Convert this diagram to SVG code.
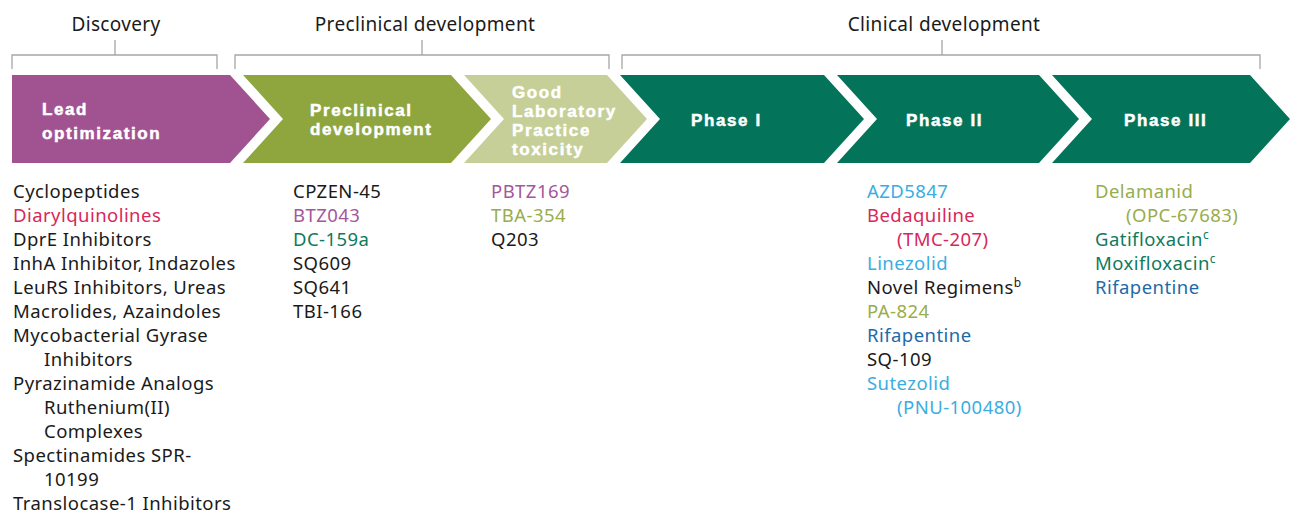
<svg xmlns="http://www.w3.org/2000/svg" width="1290" height="512" viewBox="0 0 1290 512">
<style>
text{font-family:"Noto Sans","Liberation Sans",sans-serif;}
.hdr{font-size:19px;letter-spacing:0.35px;fill:#1a1a1a;text-anchor:middle;}
.lbl{font-family:"Liberation Sans","Noto Sans",sans-serif;font-size:17px;font-weight:bold;letter-spacing:1.6px;fill:#ffffff;stroke:#ffffff;stroke-width:0.5px;}
.li{font-size:18.5px;letter-spacing:0.45px;fill:#1a1a1a;}
.br{fill:none;stroke:#a6a6a6;stroke-width:1.3;}
.red{fill:#d8275a;}
.pur{fill:#a4579a;}
.grn{fill:#0f7a5c;}
.olv{fill:#98ad4b;}
.lbl2{fill:#3aade2;}
.dbl{fill:#1e6aa8;}
.sup{font-size:12px;letter-spacing:0;}
</style>
<g id="brackets">
<path class="br" d="M12,69 V55 H217 V69 M115,55 V40"/>
<path class="br" d="M235,69 V55 H609 V69 M422,55 V40"/>
<path class="br" d="M622,69 V55 H1260 V69 M942,55 V40"/>
<text class="hdr" x="116" y="31">Discovery</text>
<text class="hdr" x="425" y="31">Preclinical development</text>
<text class="hdr" x="944" y="31">Clinical development</text>
</g>
<g id="lead">
<polygon points="12,75 230,75 270,119 230,163 12,163" fill="#a15391"/>
<text class="lbl"><tspan x="42" y="115">Lead</tspan><tspan x="42" y="139">optimization</tspan></text>
</g>
<g id="preclinical">
<polygon points="243,75 451,75 491,119 451,163 243,163 283,119" fill="#8fa63e"/>
<text class="lbl"><tspan x="310" y="116">Preclinical</tspan><tspan x="310" y="135">development</tspan></text>
</g>
<g id="glp">
<polygon points="464,75 607,75 647,119 607,163 464,163 504,119" fill="#c5cf97"/>
<text class="lbl"><tspan x="512" y="97.5">Good</tspan><tspan x="512" y="116.5">Laboratory</tspan><tspan x="512" y="135.5">Practice</tspan><tspan x="512" y="154.5">toxicity</tspan></text>
</g>
<g id="phase1">
<polygon points="620,75 824,75 864,119 824,163 620,163 660,119" fill="#03735a"/>
<text class="lbl" x="691" y="126">Phase I</text>
</g>
<g id="phase2">
<polygon points="837,75 1039,75 1079,119 1039,163 837,163 877,119" fill="#03735a"/>
<text class="lbl" x="906" y="126">Phase II</text>
</g>
<g id="phase3">
<polygon points="1052,75 1250,75 1290,119 1250,163 1052,163 1092,119" fill="#03735a"/>
<text class="lbl" x="1124" y="126">Phase III</text>
</g>
<g id="list-discovery">
<text class="li" x="13" y="197.5">Cyclopeptides</text>
<text class="li red" x="13" y="221.5">Diarylquinolines</text>
<text class="li" x="13" y="245.5">DprE Inhibitors</text>
<text class="li" x="13" y="269.5">InhA Inhibitor, Indazoles</text>
<text class="li" x="13" y="293.5">LeuRS Inhibitors, Ureas</text>
<text class="li" x="13" y="317.5">Macrolides, Azaindoles</text>
<text class="li" x="13" y="341.5">Mycobacterial Gyrase</text>
<text class="li" x="44" y="365.5">Inhibitors</text>
<text class="li" x="13" y="389.5">Pyrazinamide Analogs</text>
<text class="li" x="44" y="413.5">Ruthenium(II)</text>
<text class="li" x="44" y="437.5">Complexes</text>
<text class="li" x="13" y="461.5">Spectinamides SPR-</text>
<text class="li" x="44" y="485.5">10199</text>
<text class="li" x="13" y="509.5">Translocase-1 Inhibitors</text>
</g>
<g id="list-preclinical">
<text class="li" x="293" y="197.5">CPZEN-45</text>
<text class="li pur" x="293" y="221.5">BTZ043</text>
<text class="li grn" x="293" y="245.5">DC-159a</text>
<text class="li" x="293" y="269.5">SQ609</text>
<text class="li" x="293" y="293.5">SQ641</text>
<text class="li" x="293" y="317.5">TBI-166</text>
</g>
<g id="list-glp">
<text class="li pur" x="491" y="197.5">PBTZ169</text>
<text class="li olv" x="491" y="221.5">TBA-354</text>
<text class="li" x="491" y="245.5">Q203</text>
</g>
<g id="list-phase2">
<text class="li lbl2" x="867" y="197.5">AZD5847</text>
<text class="li red" x="867" y="221.5">Bedaquiline</text>
<text class="li red" x="897" y="245.5">(TMC-207)</text>
<text class="li lbl2" x="867" y="269.5">Linezolid</text>
<text class="li" x="867" y="293.5">Novel Regimens<tspan class="sup" dy="-7">b</tspan></text>
<text class="li olv" x="867" y="317.5">PA-824</text>
<text class="li dbl" x="867" y="341.5">Rifapentine</text>
<text class="li" x="867" y="365.5">SQ-109</text>
<text class="li lbl2" x="867" y="389.5">Sutezolid</text>
<text class="li lbl2" x="897" y="413.5">(PNU-100480)</text>
</g>
<g id="list-phase3">
<text class="li olv" x="1095" y="197.5">Delamanid</text>
<text class="li olv" x="1126" y="221.5">(OPC-67683)</text>
<text class="li grn" x="1095" y="245.5">Gatifloxacin<tspan class="sup" dy="-7">c</tspan></text>
<text class="li grn" x="1095" y="269.5">Moxifloxacin<tspan class="sup" dy="-7">c</tspan></text>
<text class="li dbl" x="1095" y="293.5">Rifapentine</text>
</g>
</svg>
